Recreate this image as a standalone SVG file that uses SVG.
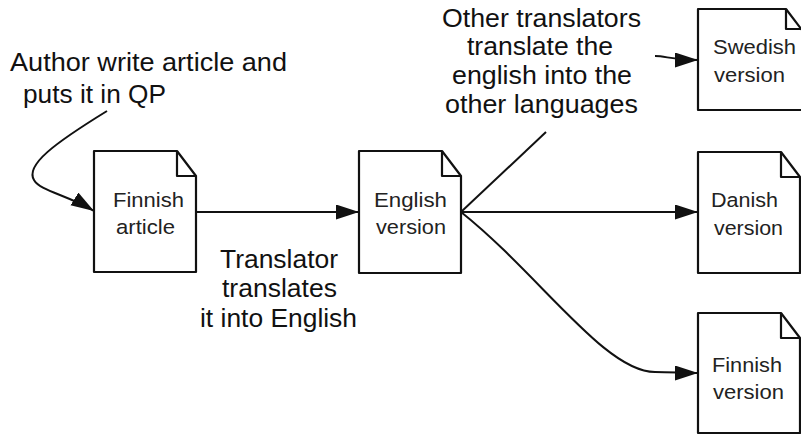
<svg xmlns="http://www.w3.org/2000/svg" width="801" height="435" viewBox="0 0 801 435">
<defs>
<style>
.doc{fill:#fff;stroke:#111;stroke-width:2.2;stroke-linejoin:round}
.fold{fill:none;stroke:#111;stroke-width:2.2;stroke-linejoin:round}
.lbl{font-family:"Liberation Sans",Arial,sans-serif;font-size:25px;fill:#111}
.nt{font-family:"Liberation Sans",Arial,sans-serif;font-size:20.5px;fill:#222}
.cn{fill:none;stroke:#111;stroke-width:2}
</style>
<marker id="ah" markerUnits="userSpaceOnUse" markerWidth="24" markerHeight="16" refX="23" refY="7.5" orient="auto">
<path d="M0,0 L23,7.5 L0,15 Z" fill="#111"/>
</marker>
</defs>
<rect width="801" height="435" fill="#fff"/>

<g id="finnish-article">
<path class="doc" d="M94,151 H177 L196,176 V272 H94 Z"/>
<path class="fold" d="M177,151 V176 H196"/>
<text class="nt" x="113" y="207" textLength="71" lengthAdjust="spacingAndGlyphs">Finnish</text>
<text class="nt" x="116" y="234" textLength="59" lengthAdjust="spacingAndGlyphs">article</text>
</g>

<g id="english-version">
<path class="doc" d="M359,151 H442 L461,176 V273 H359 Z"/>
<path class="fold" d="M442,151 V176 H461"/>
<text class="nt" x="374" y="207" textLength="73" lengthAdjust="spacingAndGlyphs">English</text>
<text class="nt" x="376" y="234" textLength="70" lengthAdjust="spacingAndGlyphs">version</text>
</g>

<g id="swedish-version">
<path class="doc" d="M698,9 H786 L805,34 V110 H698 Z"/>
<path class="fold" d="M786,9 V29 H805"/>
<text class="nt" x="713" y="54" textLength="83" lengthAdjust="spacingAndGlyphs">Swedish</text>
<text class="nt" x="714" y="82" textLength="71" lengthAdjust="spacingAndGlyphs">version</text>
</g>

<g id="danish-version">
<path class="doc" d="M698,152 H781 L800,177 V273 H698 Z"/>
<path class="fold" d="M781,152 V177 H800"/>
<text class="nt" x="711" y="207" textLength="67" lengthAdjust="spacingAndGlyphs">Danish</text>
<text class="nt" x="714" y="235" textLength="69" lengthAdjust="spacingAndGlyphs">version</text>
</g>

<g id="finnish-version">
<path class="doc" d="M698,313 H781 L800,338 V433 H698 Z"/>
<path class="fold" d="M781,313 V338 H800"/>
<text class="nt" x="712" y="372" textLength="70" lengthAdjust="spacingAndGlyphs">Finnish</text>
<text class="nt" x="713" y="399" textLength="71" lengthAdjust="spacingAndGlyphs">version</text>
</g>

<g id="labels">
<text class="lbl" x="10" y="71" textLength="277" lengthAdjust="spacingAndGlyphs">Author write article and</text>
<text class="lbl" x="23" y="103" textLength="143" lengthAdjust="spacingAndGlyphs">puts it in QP</text>
<text class="lbl" x="220" y="268" textLength="118" lengthAdjust="spacingAndGlyphs">Translator</text>
<text class="lbl" x="222" y="297" textLength="115" lengthAdjust="spacingAndGlyphs">translates</text>
<text class="lbl" x="200" y="327" textLength="157" lengthAdjust="spacingAndGlyphs">it into English</text>
<text class="lbl" x="442" y="27" textLength="199" lengthAdjust="spacingAndGlyphs">Other translators</text>
<text class="lbl" x="467" y="55" textLength="146" lengthAdjust="spacingAndGlyphs">translate the</text>
<text class="lbl" x="452" y="84" textLength="180" lengthAdjust="spacingAndGlyphs">english into the</text>
<text class="lbl" x="445" y="113" textLength="193" lengthAdjust="spacingAndGlyphs">other languages</text>
</g>

<g id="connectors">
<path class="cn" d="M107,111 C55,143 25,165 34,180 C40,191 68,195 94,211" marker-end="url(#ah)"/>
<path class="cn" d="M196,212 H359" marker-end="url(#ah)"/>
<path class="cn" d="M461,212 H698" marker-end="url(#ah)"/>
<path class="cn" d="M461,212 L546,132"/>
<path class="cn" d="M461,212 C540,275 605,372 655,372 C670,372 685,373 698,373" marker-end="url(#ah)"/>
<path class="cn" d="M655,56 C666,56 672,60 698,60" marker-end="url(#ah)"/>
</g>
</svg>
